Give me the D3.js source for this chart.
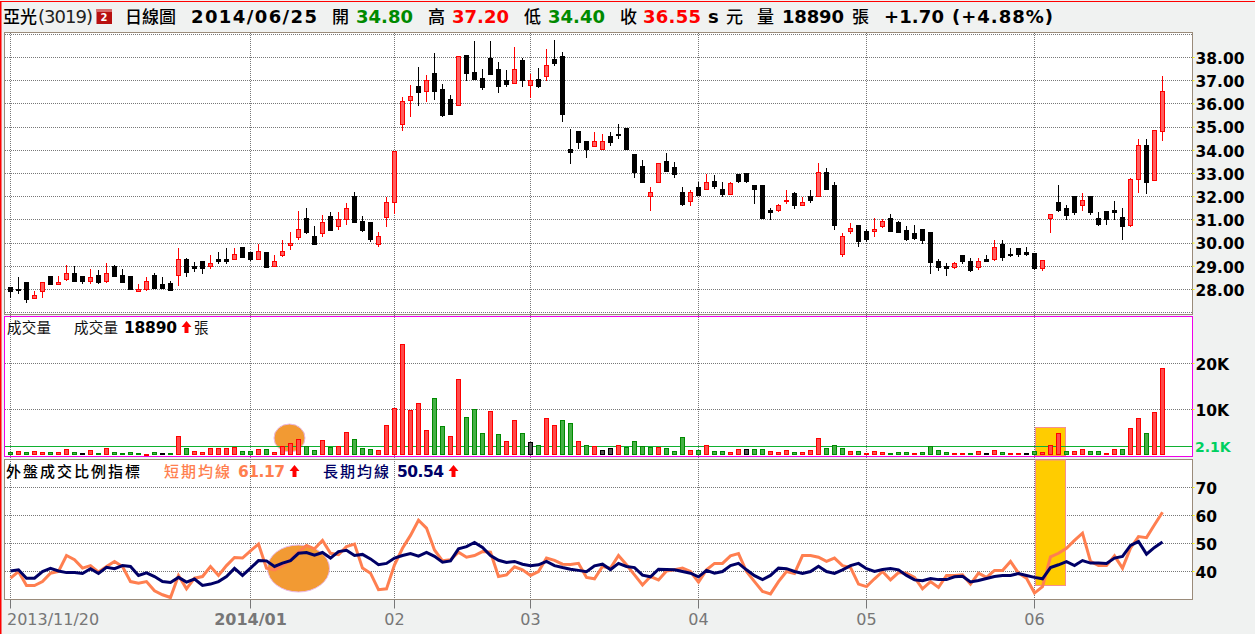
<!DOCTYPE html>
<html>
<head>
<meta charset="utf-8">
<title>亞光(3019) 日線圖</title>
<script src="https://cdn.jsdelivr.net/npm/d3@7"></script>
<style>
  html, body { margin: 0; padding: 0; background: #f0f2f1; overflow: hidden; }
  svg { display: block; }
  text { font-family: "DejaVu Sans", sans-serif; }
  .cjk { font-family: "Noto Sans CJK TC", sans-serif; }
  .axis .domain { display: none; }
</style>
</head>
<body>
<svg id="chart" width="1255" height="634"></svg>
<script>
// daily prices, one entry per trading day
const priceOpen = [28.10,28.00,28.30,27.60,27.90,28.55,28.20,28.45,28.70,28.55,28.35,28.60,28.35,29.00,28.60,28.55,27.90,28.00,28.60,28.20,28.25,28.60,29.30,29.00,29.20,29.00,29.30,29.30,29.30,29.80,29.60,29.30,29.60,29.00,29.45,29.90,30.25,31.05,30.30,30.40,31.15,30.70,31.00,32.00,30.95,30.90,29.95,31.10,31.75,35.10,36.15,36.75,36.55,37.30,36.60,36.20,35.95,38.10,37.35,37.10,37.95,37.50,37.00,36.90,37.85,36.80,37.05,37.20,37.90,38.05,34.05,34.80,34.40,34.15,34.05,34.60,34.70,34.95,33.80,33.30,32.00,32.60,33.50,33.25,32.20,31.80,32.40,32.30,32.65,32.30,32.10,32.95,33.00,32.50,32.50,31.40,31.40,31.80,32.15,31.60,32.00,32.00,33.05,32.50,29.50,30.50,30.75,30.50,30.50,30.70,31.05,30.90,30.55,30.40,30.60,30.45,29.20,29.00,28.95,29.45,29.20,28.95,29.30,29.30,29.95,29.50,29.75,29.60,29.55,28.90,31.05,31.75,31.50,32.00,31.60,32.00,31.05,31.35,31.40,31.10,30.75,32.75,34.20,32.70,34.80];
const priceClose = [27.90,27.95,27.55,27.75,28.30,28.20,28.30,28.70,28.35,28.35,28.50,28.30,28.70,28.55,28.30,28.00,28.00,28.35,28.05,28.05,27.95,29.30,28.75,28.90,28.90,29.10,29.20,29.20,29.50,29.40,29.30,29.65,28.95,29.20,29.65,30.00,30.60,30.45,29.95,30.90,30.55,31.00,31.50,30.90,30.55,30.15,30.30,31.75,33.95,36.10,36.30,36.50,37.00,36.55,35.50,35.55,38.05,37.30,37.05,36.70,37.25,36.75,36.85,37.50,37.00,37.00,36.75,37.65,37.75,35.55,33.90,34.35,34.05,34.40,34.40,34.35,34.65,34.05,33.05,32.60,32.20,33.45,33.10,32.95,31.65,32.20,32.05,32.60,32.45,32.10,32.55,32.65,32.65,32.30,31.05,31.30,31.60,31.85,31.60,31.75,31.85,33.05,32.30,30.75,30.30,30.65,30.05,30.15,30.60,30.95,30.50,30.45,30.15,30.20,30.10,29.15,28.95,28.90,29.10,29.20,28.80,29.20,29.20,29.80,29.40,29.45,29.50,29.50,28.90,29.25,31.25,31.40,31.20,31.30,31.85,31.30,30.80,31.00,31.30,30.70,32.75,34.20,32.60,34.85,36.55];
const priceHigh = [28.10,28.55,28.30,27.95,28.30,28.60,28.60,29.05,29.00,28.60,28.90,28.85,29.15,29.05,28.90,28.60,28.25,28.55,28.70,28.55,28.35,29.80,29.35,29.20,29.20,29.50,29.60,29.80,29.80,29.80,29.60,29.95,29.60,29.50,30.15,30.50,31.40,31.50,30.75,31.20,31.35,31.35,31.75,32.20,31.15,30.90,30.50,32.00,33.95,36.30,36.80,37.60,37.25,38.20,36.85,36.40,38.05,38.10,38.70,37.50,38.70,37.80,37.45,38.45,38.00,37.30,37.55,38.35,38.75,38.25,34.90,34.80,34.40,34.80,34.70,34.80,35.15,34.95,33.80,33.60,32.40,33.45,33.90,33.50,32.40,32.30,32.65,33.00,32.95,32.65,32.65,32.95,33.00,32.50,32.50,31.50,31.70,32.30,32.20,32.00,32.30,33.45,33.25,32.65,30.45,30.85,30.80,30.60,31.10,31.05,31.25,30.95,30.75,30.80,30.60,30.45,29.30,29.15,29.20,29.45,29.35,29.35,29.50,30.15,30.15,29.80,29.80,29.85,29.55,29.25,31.25,32.50,31.65,32.00,32.15,32.00,31.35,31.35,31.80,31.50,32.80,34.50,34.50,34.85,37.20];
const priceLow = [27.65,27.80,27.40,27.60,27.65,28.20,28.20,28.35,28.35,28.25,28.25,28.25,28.30,28.55,28.30,28.00,27.90,27.95,28.05,28.05,27.95,28.15,28.55,28.75,28.65,28.90,29.10,29.10,29.30,29.40,29.25,29.30,28.95,29.00,29.40,29.70,30.15,30.40,29.95,30.25,30.55,30.55,30.80,30.90,30.50,30.05,29.85,30.70,31.25,34.85,35.45,35.90,36.10,36.15,35.45,35.55,35.95,37.00,37.05,36.60,37.25,36.45,36.75,36.90,36.75,36.25,36.70,37.00,37.65,35.20,33.40,34.05,33.65,34.15,34.00,34.20,34.50,34.00,32.80,32.60,31.40,32.60,33.10,32.80,31.60,31.60,32.05,32.30,32.35,32.00,32.10,32.60,32.60,31.70,31.05,31.00,31.35,31.70,31.45,31.60,31.75,32.00,32.30,30.55,29.40,30.40,29.85,30.05,30.25,30.65,30.50,30.45,30.10,30.15,29.95,28.65,28.80,28.60,28.90,29.10,28.75,28.85,29.20,29.25,29.25,29.40,29.40,29.45,28.85,28.80,30.45,31.35,31.00,31.20,31.40,31.20,30.75,30.80,31.00,30.15,30.70,32.15,32.10,32.70,34.40];

// volume in thousand lots, and bar colour group (r = red, g = green, k = black), ten days per chunk
const volume = [0.65,0.87,0.65,0.87,0.65,0.65,0.65,1.30,0.65,0.43,1.09,0.43,1.52,0.65,0.43,0.65,0.43,0.22,0.65,0.43,0.43,4.13,1.52,0.87,0.65,1.52,1.52,1.52,1.74,0.87,0.87,1.30,1.30,0.65,1.96,2.60,3.48,1.96,1.09,3.26,1.74,1.96,5.00,3.48,1.52,1.30,1.09,6.52,10.2,24.1,9.78,11.3,5.43,12.4,6.30,4.13,16.5,8.26,10.0,4.78,9.57,4.57,3.04,7.61,4.78,2.83,2.17,8.04,6.52,7.61,6.96,3.04,2.17,1.96,1.09,1.52,2.17,1.74,3.04,1.96,1.74,1.74,1.52,0.87,3.91,1.09,1.09,2.17,0.87,0.87,0.65,1.30,1.30,1.30,1.30,0.87,0.65,1.09,0.65,0.65,1.09,3.70,1.52,2.17,1.52,0.87,0.87,0.43,0.87,0.65,0.43,0.65,0.65,0.43,0.65,1.96,1.09,0.65,0.43,0.43,0.43,0.87,0.43,1.09,0.65,0.43,0.43,0.43,0.87,0.65,2.17,4.78,0.87,0.87,1.30,0.87,0.87,0.43,1.30,1.30,5.87,8.04,4.78,9.35,18.89];
const volumeSide = ['grgrrgrrgk','rgrggggrgk','grgrrrrrrg','grgrrrrggr','grrgggrrrr','rrrggrrggg','rgrrgkgrrg','grgrkkrggg','grgggrgrgg','rrkggrrrgr','rrgggrgrrr','gggrggggrr','grkrgrrkgr','rrgrrggrrg','rrgrr'].join('').split('');

// indicator lines
const shortLine = [37.6,40.0,35.0,35.0,36.4,39.4,40.0,45.7,44.2,41.2,42.1,39.8,41.8,43.6,41.8,36.4,35.8,36.4,33.1,31.7,30.7,38.6,33.8,37.6,38.2,41.8,38.6,42.1,45.0,44.8,47.4,49.8,41.2,40.6,42.1,44.2,46.9,49.3,48.1,51.1,46.5,46.0,48.9,49.8,41.2,39.4,33.5,33.8,42.4,48.3,52.9,58.3,55.5,47.7,43.8,44.2,46.9,45.1,45.7,47.1,46.9,38.2,38.8,41.7,40.6,38.6,40.0,44.8,44.0,42.6,42.5,42.9,37.9,37.4,41.8,41.2,45.7,42.4,38.8,35.2,38.2,37.0,40.2,40.6,41.2,40.0,36.2,40.6,42.9,42.9,45.6,46.4,40.0,36.4,32.9,32.0,36.4,40.0,39.3,45.7,45.7,45.1,43.6,44.8,42.1,41.4,35.5,34.6,37.4,40.0,37.0,39.6,39.4,37.9,33.8,36.4,34.3,38.6,38.6,38.8,35.5,39.4,37.9,40.4,40.4,43.6,39.4,37.6,32.3,34.6,45.2,46.5,48.3,51.1,53.7,43.6,42.1,42.1,45.6,41.2,48.3,52.5,52.1,56.7,61.17];
const longLine = [40.2,40.6,37.6,37.6,40.0,41.1,40.2,39.6,39.6,39.3,41.0,39.3,41.5,41.0,42.1,41.8,38.6,39.5,38.2,36.4,36.1,37.9,36.2,37.3,35.0,35.5,36.4,38.2,41.1,38.6,41.2,43.9,43.8,41.8,43.0,43.9,46.5,46.8,45.8,46.8,44.8,47.1,47.6,45.7,46.1,44.5,42.4,42.9,44.8,45.7,46.4,45.5,46.8,45.4,43.3,43.8,48.1,48.9,50.4,48.6,45.7,44.0,43.2,43.6,42.6,42.1,42.4,43.6,42.1,41.4,40.8,40.4,39.9,42.0,42.6,40.7,42.9,41.8,41.4,38.7,38.1,40.8,40.7,40.6,40.0,39.4,38.1,40.4,39.4,40.0,42.1,42.9,40.6,38.5,37.1,38.6,41.2,41.0,40.0,39.3,40.0,41.9,40.0,39.3,40.6,42.1,42.9,41.0,40.0,40.7,41.1,40.6,38.6,37.0,36.7,37.5,37.1,37.1,38.1,38.3,36.3,36.8,37.5,38.2,38.6,38.6,39.3,38.6,37.9,37.4,41.4,42.4,43.5,42.1,43.9,43.0,43.0,42.9,44.8,45.4,49.3,50.7,46.2,48.6,50.54];

const priceTicks = [28, 29, 30, 31, 32, 33, 34, 35, 36, 37, 38];
const priceGrid = [27, 28, 29, 30, 31, 32, 33, 34, 35, 36, 37, 38, 39];
const volumeTicks = [10, 20];
const ratioTicks = [40, 50, 60, 70];
const monthIndex = [0, 30, 48, 65, 86, 107, 128];
const monthLabels = ['2013/11/20', '2014/01', '02', '03', '04', '05', '06'];
const volumeAverage = 2.1;

const headerItems = [
  { text: '亞光', x: 3, w: 34, cjk: true, color: '#000' },
  { text: '(3019)', x: 38, w: 55, color: '#222', plain: true },
  { text: '日線圖', x: 125, w: 51, cjk: true, color: '#000' },
  { text: '2014/06/25', x: 191, w: 126, color: '#000' },
  { text: '開', x: 332, w: 16, cjk: true, color: '#000' },
  { text: '34.80', x: 356, w: 57, color: '#008a00' },
  { text: '高', x: 428, w: 16, cjk: true, color: '#000' },
  { text: '37.20', x: 452, w: 57, color: '#ff0000' },
  { text: '低', x: 524, w: 16, cjk: true, color: '#000' },
  { text: '34.40', x: 548, w: 57, color: '#008a00' },
  { text: '收', x: 620, w: 16, cjk: true, color: '#000' },
  { text: '36.55', x: 643, w: 58, color: '#ff0000' },
  { text: 's', x: 708, w: 10, color: '#000' },
  { text: '元', x: 726, w: 16, cjk: true, color: '#000' },
  { text: '量', x: 757, w: 16, cjk: true, color: '#000' },
  { text: '18890', x: 782, w: 62, color: '#000' },
  { text: '張', x: 852, w: 16, cjk: true, color: '#000' },
  { text: '+1.70', x: 884, w: 60, color: '#000' },
  { text: '(+4.88%)', x: 952, w: 101, color: '#000' }
];

const left = 4.5, right = 1192.5;
const grey = '#777', frame = '#9a8b7a', magenta = '#f000e8';
const coral = '#ff7f50', navy = '#000066';

const svg = d3.select('#chart');
const days = d3.range(priceOpen.length);

const x = d3.scaleLinear().domain([0, 144]).range([10.5, 1162.5]);
const yPrice = d3.scaleLinear().domain([28, 38]).range([289.5, 57.5]);
const yVolume = d3.scaleLinear().domain([0, 20]).range([455.5, 363.5]);
const yRatio = d3.scaleLinear().domain([40, 70]).range([571.5, 487.5]);

// snap to the pixel grid so the 1px strokes stay sharp
const snap = v => Math.round(v - 0.5) + 0.5;

// page edge and panels
svg.append('rect').attr('x', 0).attr('y', 1).attr('width', 1255).attr('height', 1).attr('fill', '#ff0000');
svg.append('rect').attr('x', 0).attr('y', 1).attr('width', 1.5).attr('height', 633).attr('fill', '#ff0000');

svg.append('rect').attr('x', left).attr('y', 32.5).attr('width', right - left).attr('height', 282)
  .attr('fill', '#fff').attr('stroke', frame);
svg.append('rect').attr('x', left).attr('y', 459.5).attr('width', right - left).attr('height', 140)
  .attr('fill', '#fff').attr('stroke', frame);
svg.append('rect').attr('x', left).attr('y', 316.5).attr('width', right - left).attr('height', 140)
  .attr('fill', '#fff');

function gridRows(values, scale) {
  svg.append('g').selectAll('line').data(values).enter().append('line')
    .attr('x1', 5).attr('x2', right)
    .attr('y1', d => snap(scale(d)))
    .attr('y2', d => snap(scale(d)))
    .attr('stroke', grey).attr('stroke-dasharray', '1,1');
}

gridRows(priceGrid, yPrice);
gridRows(volumeTicks, yVolume);
gridRows(ratioTicks, yRatio);

svg.append('g').selectAll('line').data(monthIndex).enter().append('line')
  .attr('x1', d => x(d)).attr('x2', d => x(d))
  .attr('y1', 33).attr('y2', 599)
  .attr('stroke', grey).attr('stroke-dasharray', '1,1');

// hand drawn marks that sit under the data
svg.append('ellipse').attr('cx', 289.5).attr('cy', 438).attr('rx', 15.5).attr('ry', 14)
  .attr('fill', '#f29a33').attr('stroke', '#e8b8e8');
svg.append('ellipse').attr('cx', 298.5).attr('cy', 568.5).attr('rx', 31).attr('ry', 23.5)
  .attr('fill', '#f29a33').attr('stroke', '#e8b8e8');
svg.append('rect').attr('x', 1035.5).attr('y', 427.5).attr('width', 30).attr('height', 28.5)
  .attr('fill', '#ffcc00').attr('stroke', '#f59090');
svg.append('rect').attr('x', 1035.5).attr('y', 460).attr('width', 30).attr('height', 125.5)
  .attr('fill', '#ffcc00').attr('stroke', '#f59090');

// average volume line
svg.append('line').attr('x1', left).attr('x2', right)
  .attr('y1', 446.5).attr('y2', 446.5)
  .attr('stroke', '#10b030');

// candles
const isUp = i => priceClose[i] >= priceOpen[i];
const bodyTop = i => snap(yPrice(Math.max(priceOpen[i], priceClose[i])));
const bodyBottom = i => snap(yPrice(Math.min(priceOpen[i], priceClose[i])));
const candles = svg.append('g').selectAll('g').data(days).enter().append('g');

candles.append('line')
  .attr('x1', d => x(d)).attr('x2', d => x(d))
  .attr('y1', d => Math.round(yPrice(priceHigh[d]))).attr('y2', d => Math.round(yPrice(priceLow[d])))
  .attr('stroke', d => isUp(d) ? '#ff0000' : '#000');

candles.append('rect')
  .attr('x', d => x(d) - 2)
  .attr('width', 4)
  .attr('y', bodyTop)
  .attr('height', d => Math.max(1, bodyBottom(d) - bodyTop(d)))
  .attr('fill', d => isUp(d) ? '#ff5f5f' : '#000')
  .attr('stroke', d => isUp(d) ? '#ff0000' : '#000');

// volume bars
const barFill = { r: '#ff4a4a', g: '#45b045', k: '#555' };
const barStroke = { r: '#ff0000', g: '#008a00', k: '#000' };

svg.append('g').selectAll('rect').data(days).enter().append('rect')
  .attr('x', d => x(d) - 2)
  .attr('width', 4)
  .attr('y', d => snap(yVolume(volume[d])))
  .attr('height', d => Math.max(1, 454.5 - snap(yVolume(volume[d]))))
  .attr('fill', d => barFill[volumeSide[d]])
  .attr('stroke', d => barStroke[volumeSide[d]]);

svg.append('rect').attr('x', left).attr('y', 316.5).attr('width', right - left).attr('height', 140)
  .attr('fill', 'none').attr('stroke', magenta);

// indicator lines
const line = d3.line().x((d, i) => x(i)).y(d => yRatio(d));
svg.append('path').datum(shortLine).attr('d', line)
  .attr('fill', 'none').attr('stroke', coral).attr('stroke-width', 3);
svg.append('path').datum(longLine).attr('d', line)
  .attr('fill', 'none').attr('stroke', navy).attr('stroke-width', 3);

// right axes
function rightAxis(scale, values, format) {
  const g = svg.append('g').attr('class', 'axis')
    .attr('transform', `translate(${right},0)`)
    .call(d3.axisRight(scale).tickValues(values).tickFormat(format).tickSize(2).tickPadding(1).offset(0));
  g.selectAll('line').attr('stroke', '#ffff00');
  g.selectAll('text').attr('font-size', 15.5).attr('font-weight', 'bold').attr('dy', '0.4em')
    .attr('fill', '#000').style('font-family', '"DejaVu Sans", sans-serif');
  return g;
}

rightAxis(yPrice, priceTicks, d3.format('.2f'));
rightAxis(yVolume, volumeTicks, d => d + 'K');
rightAxis(yRatio, ratioTicks, d => d);

svg.append('text').attr('x', 1195).attr('y', 451.5).text(volumeAverage + 'K')
  .attr('font-size', 14).attr('font-weight', 'bold').attr('fill', '#00d060');

// month axis
const monthAxis = svg.append('g').attr('class', 'axis')
  .attr('transform', 'translate(0,599.5)')
  .call(d3.axisBottom(x).tickValues(monthIndex).tickFormat((d, i) => monthLabels[i]).tickSize(9).tickPadding(5).offset(0));
monthAxis.selectAll('line').attr('stroke', grey);
monthAxis.selectAll('text')
  .attr('font-size', 16)
  .attr('fill', grey)
  .attr('font-weight', (d, i) => i === 1 ? 'bold' : 'normal')
  .attr('text-anchor', (d, i) => i === 0 ? 'start' : 'middle')
  .attr('dx', (d, i) => i === 0 ? -3.5 : 0)
  .style('font-family', '"DejaVu Sans", sans-serif');

// header row
svg.append('g').selectAll('text').data(headerItems).enter().append('text')
  .attr('class', d => d.cjk ? 'cjk' : null)
  .attr('x', d => d.x)
  .attr('y', 22.5)
  .attr('textLength', d => d.w)
  .attr('font-size', d => d.cjk ? 17 : 18)
  .attr('font-weight', d => d.cjk ? 500 : d.plain ? 'normal' : 'bold')
  .attr('fill', d => d.color)
  .text(d => d.text);

// red square badge next to the name
svg.append('rect').attr('x', 96.5).attr('y', 9).attr('width', 15.5).attr('height', 15).attr('fill', '#b81010');
svg.append('rect').attr('x', 96.5).attr('y', 9).attr('width', 15.5).attr('height', 3).attr('fill', '#d86a6a');
svg.append('text').attr('x', 104).attr('y', 21).attr('text-anchor', 'middle')
  .attr('font-size', 10).attr('font-weight', 'bold').attr('fill', '#fff').text('2');

function label(text, xPos, yPos, size, color, weight, isCjk, width) {
  svg.append('text').attr('class', isCjk ? 'cjk' : null)
    .attr('x', xPos).attr('y', yPos).attr('font-size', size)
    .attr('font-weight', weight).attr('fill', color)
    .attr('textLength', width).text(text);
}

function upArrow(cx, baseY) {
  svg.append('path')
    .attr('d', `M${cx},${baseY - 12}L${cx + 5},${baseY - 6}H${cx + 2}V${baseY}H${cx - 2}V${baseY - 6}H${cx - 5}Z`)
    .attr('fill', '#ff0000');
}

// volume panel titles
label('成交量', 7, 333, 14.5, '#111', 400, true, 44);
label('成交量', 74, 333, 14.5, '#111', 400, true, 44);
label('18890', 124, 333, 15.5, '#000', 'bold', false, 53);
upArrow(186.5, 333);
label('張', 194, 333, 14.5, '#111', 400, true, 14);

// indicator panel titles
label('外盤成交比例指標', 6, 477, 15, '#000', 500, true, 134);
label('短期均線', 164, 477, 15, coral, 500, true, 66);
label('61.17', 238, 477, 15.5, coral, 'bold', false, 47);
upArrow(294.5, 477);
label('長期均線', 323, 477, 15, navy, 500, true, 66);
label('50.54', 397, 477, 15.5, navy, 'bold', false, 47);
upArrow(453.5, 477);
</script>
</body>
</html>
